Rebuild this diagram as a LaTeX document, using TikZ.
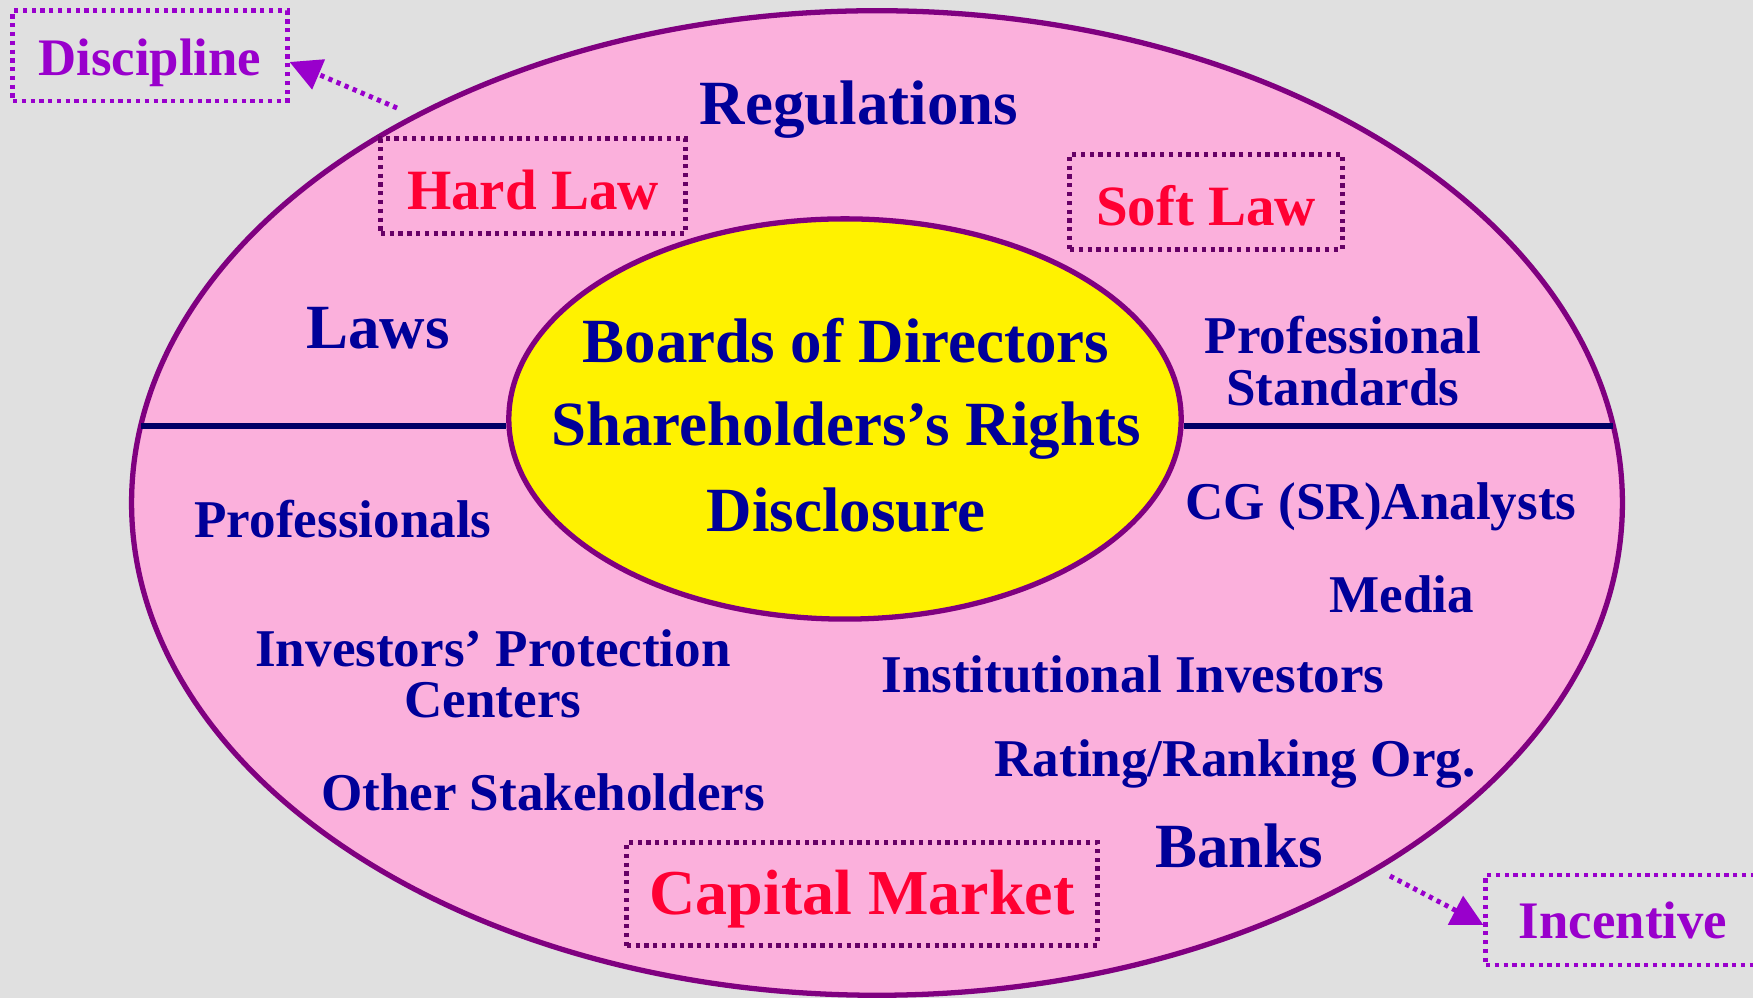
\documentclass[tikz,border=0pt]{standalone}
\usepackage{fontspec}
\setmainfont{Liberation Serif}
\usepackage{xcolor}
\usetikzlibrary{arrows.meta, shapes.geometric, positioning}

\definecolor{bgGray}{HTML}{E0E0E0}
\definecolor{pinkFill}{HTML}{FBB0DC}
\definecolor{rimPurple}{HTML}{800080}
\definecolor{navyText}{HTML}{000099}
\definecolor{navyLine}{HTML}{000066}
\definecolor{lawRed}{HTML}{FF0033}
\definecolor{violetText}{HTML}{9900CC}
\definecolor{boxPurple}{HTML}{660066}

\begin{document}
\begin{tikzpicture}[
        x=0.01cm, y=-0.01cm,
        every node/.style={font=\bfseries, align=center, inner sep=0pt},
        ring/.style={ellipse, draw=rimPurple, line width=1.5pt},
        big/.style={text=navyText, font=\bfseries\fontsize{17.9}{19}\selectfont},
        small/.style={text=navyText, font=\bfseries\fontsize{15.1}{14.6}\selectfont},
        lawbox/.style={draw=boxPurple, line width=1.4pt, dash pattern=on 1.2pt off 1.3pt,
            text=lawRed},
        tagbox/.style={draw=violetText, line width=1.4pt, dash pattern=on 1.2pt off 1.3pt,
            text=violetText, font=\bfseries\fontsize{15}{16}\selectfont,
            minimum width=2.74cm, minimum height=0.9cm},
        tagarrow/.style={violetText, line width=1.4pt, dash pattern=on 1.2pt off 1.3pt,
            -{Triangle[length=9pt, width=9pt]}}
    ]

    \clip (0,0) rectangle (1753,998);
    \fill[bgGray] (0,0) rectangle (1753,998);

    % the two rings
    \node[ring, fill=pinkFill, minimum width=14.9cm, minimum height=9.84cm] (outer) at (877,503) {};
    \node[ring, fill=yellow, minimum width=6.72cm, minimum height=4.0cm] (inner) at (845,419) {};

    % dividing line
    \coordinate (lw) at (141,426);
    \coordinate (le) at (1613,426);
    \draw[navyLine, line width=1.5pt] (lw) -- (lw -| inner.west);
    \draw[navyLine, line width=1.5pt] (le -| inner.east) -- (le);

    % centre
    \node[big] (board) at (846,341) {Boards of Directors};
    \node[big] (rights) at (846,431) {Shareholders’s Rights};
    \node[big] (discl) at (846,510) {Disclosure};

    % upper half
    \node[big] (regs) at (859,110) {Regulations};
    \node[big] (laws) at (378,328) {Laws};
    \node[small] (profstd) at (1343,361) {Professional\\Standards};
    \node[lawbox, font=\bfseries\fontsize{16.2}{17}\selectfont,
        minimum width=3.04cm, minimum height=0.95cm] (hard) at (533,186) {};
    \node[text=lawRed, font=\bfseries\fontsize{16.2}{17}\selectfont] (hardtxt) at (533,190) {Hard Law};
    \node[lawbox, font=\bfseries\fontsize{16.2}{17}\selectfont,
        minimum width=2.72cm, minimum height=0.95cm] (soft) at (1206,202) {};
    \node[text=lawRed, font=\bfseries\fontsize{16.2}{17}\selectfont] (softtxt) at (1206,206) {Soft Law};

    % lower half
    \node[small] (profs) at (343,519) {Professionals};
    \node[small] (cg) at (1381,507) {CG (SR)Analysts};
    \node[small] (media) at (1402,594) {Media};
    \node[small] (inst) at (1133,674) {Institutional Investors};
    \node[small] (rating) at (1235,764) {Rating/Ranking Org.};
    \node[small] (ipc) at (493,674) {Investors’ Protection\\Centers};
    \node[small] (other) at (543,792) {Other Stakeholders};
    \node[big] (banks) at (1239,846) {Banks};
    \node[lawbox, minimum width=4.7cm, minimum height=1.03cm] (capital) at (862,894) {};
    \node[text=lawRed, font=\bfseries\fontsize{18.2}{19}\selectfont] (captxt) at (862,899) {Capital Market};

    % discipline and incentive
    \node[tagbox] (disc) at (150,56) {};
    \node[text=violetText, font=\bfseries\fontsize{15}{16}\selectfont] (disctxt) at (150,63) {Discipline};
    \node[tagbox] (incent) at (1623,920) {Incentive};
    \coordinate (dfrom) at (397,108);
    \coordinate (ifrom) at (1390,876);
    \draw[tagarrow] (dfrom) -- (disc.east |- 0,62);
    \draw[tagarrow] (ifrom) -- (incent.west |- 0,925);

\end{tikzpicture}
\end{document}
